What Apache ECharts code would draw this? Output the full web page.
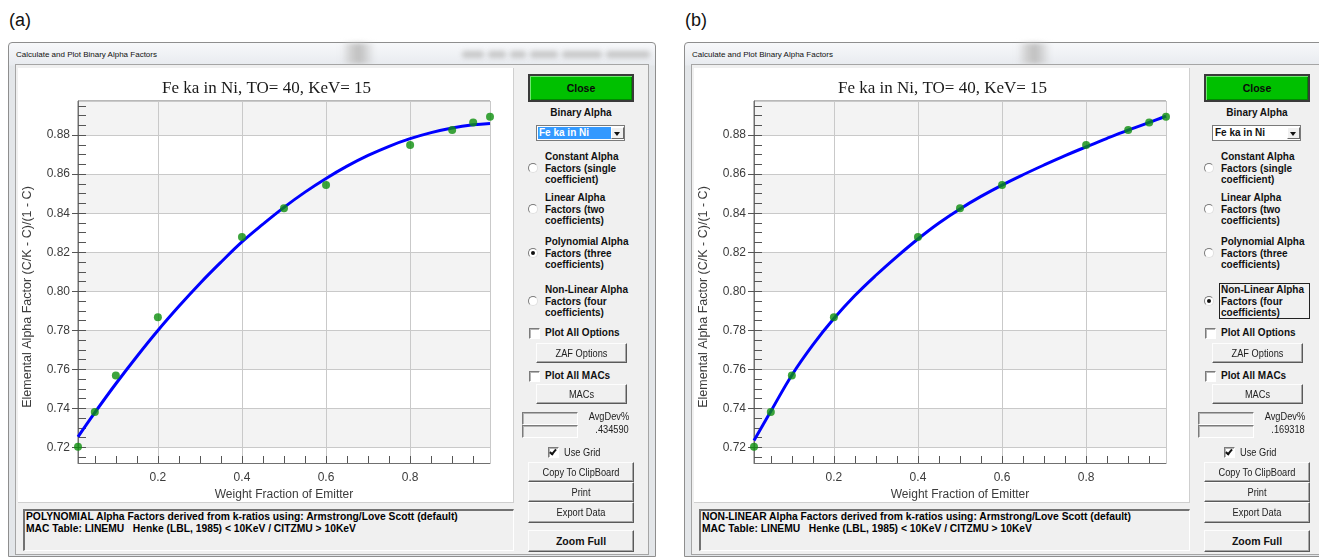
<!DOCTYPE html>
<html><head><meta charset="utf-8">
<script src="https://cdn.jsdelivr.net/npm/echarts@6.0.0/dist/echarts.min.js"></script>
<style>
html,body{margin:0;padding:0;background:#fff;}
#page{position:relative;width:1319px;height:558px;overflow:hidden;font-family:"Liberation Sans",Arial,sans-serif;}
.a{position:absolute;box-sizing:border-box;}
.bold{font-weight:bold;font-size:10px;color:#111;line-height:11.7px;white-space:pre;}
.narrow{font-family:"Liberation Sans",Arial,sans-serif;font-size:11px;color:#222;white-space:nowrap;}
.sq{display:inline-block;transform:scaleX(.84);}
.btn{background:#f0f0f0;border:1px solid;border-color:#fdfdfd #5a5a5a #5a5a5a #fdfdfd;box-shadow:inset -1px -1px 0 #a8a8a8;text-align:center;}
.sunk{border:1px solid;border-color:#7b7b7b #fff #fff #7b7b7b;box-shadow:inset 1px 1px 0 #b4b4b4;}
</style></head><body><div id="page"></div>
<script>
// ---------------- DATA ----------------
const chartTitle = 'Fe ka in Ni, TO= 40, KeV= 15';
const xAxisName = 'Weight Fraction of Emitter';
const yAxisName = 'Elemental Alpha Factor (C/K - C)/(1 - C)';
const dialogTitle = 'Calculate and Plot Binary Alpha Factors';

// measured alpha factors (green points)
const xPoints = [0.01, 0.05, 0.10, 0.20, 0.40, 0.50, 0.60, 0.80, 0.90, 0.95, 0.99];
const alphaPoints = [0.7203, 0.7381, 0.7569, 0.7867, 0.8278, 0.8426, 0.8545, 0.8749, 0.8826, 0.8865, 0.8894];

// fitted curves (blue lines)
const xCurve = [0.01, 0.05, 0.10, 0.15, 0.20, 0.25, 0.30, 0.35, 0.40, 0.45, 0.50, 0.55, 0.60, 0.65, 0.70, 0.75, 0.80, 0.85, 0.90, 0.95, 0.99];
const polyCurve = [0.7254, 0.7378, 0.7526, 0.7666, 0.7799, 0.7923, 0.8040, 0.8149, 0.8253, 0.8344, 0.8430, 0.8508, 0.8578, 0.8641, 0.8696, 0.8743, 0.8782, 0.8813, 0.8837, 0.8853, 0.8860];
const nonLinearCurve = [0.7235, 0.7385, 0.7570, 0.7725, 0.7860, 0.7978, 0.8082, 0.8178, 0.8268, 0.8350, 0.8422, 0.8486, 0.8544, 0.8597, 0.8647, 0.8695, 0.8740, 0.8784, 0.8826, 0.8865, 0.8898];

// axes
const xMin = 0.01, xMax = 0.99;
const yMin = 0.712, yMax = 0.8975;
const xTickLabels = [0.2, 0.4, 0.6, 0.8];
const xTickMarks = [0.05, 0.1, 0.15, 0.2, 0.25, 0.3, 0.35, 0.4, 0.45, 0.5, 0.55, 0.6, 0.65, 0.7, 0.75, 0.8, 0.85, 0.9, 0.95];
const yTickLabels = [0.72, 0.74, 0.76, 0.78, 0.80, 0.82, 0.84, 0.86, 0.88];
const yInnerTicks = [0.715, 0.72, 0.725, 0.73, 0.735, 0.74, 0.745, 0.75, 0.755, 0.76, 0.765, 0.77, 0.775, 0.78, 0.785, 0.79, 0.795, 0.8, 0.805, 0.81, 0.815, 0.82, 0.825, 0.83, 0.835, 0.84, 0.845, 0.85, 0.855, 0.86, 0.865, 0.87, 0.875, 0.88, 0.885, 0.89, 0.895];

// dialog texts
const radioLabels = [
  'Constant Alpha\nFactors (single\ncoefficient)',
  'Linear Alpha\nFactors (two\ncoefficients)',
  'Polynomial Alpha\nFactors (three\ncoefficients)',
  'Non-Linear Alpha\nFactors (four\ncoefficients)'
];
const statusLine2 = 'MAC Table: LINEMU   Henke (LBL, 1985) < 10KeV / CITZMU > 10KeV';
const panels = [
  {tag: '(a)', status1: 'POLYNOMIAL Alpha Factors derived from k-ratios using: Armstrong/Love Scott (default)', selected: 2, avgDev: '.434590', curve: polyCurve, highlightCombo: true},
  {tag: '(b)', status1: 'NON-LINEAR Alpha Factors derived from k-ratios using: Armstrong/Love Scott (default)', selected: 3, avgDev: '.169318', curve: nonLinearCurve, highlightCombo: false}
];

// ---------------- LAYOUT ----------------
const page = document.getElementById('page');
function box(x, y, w, h, cls, style, text) {
  const d = document.createElement('div');
  d.className = 'a ' + (cls || '');
  d.style.left = x + 'px'; d.style.top = y + 'px';
  if (w != null) d.style.width = w + 'px';
  if (h != null) d.style.height = h + 'px';
  if (style) d.style.cssText += style;
  if (text != null) d.textContent = text;
  page.appendChild(d);
  return d;
}
function narrowText(x, y, w, h, text, align, extra) {
  const d = box(x, y, w, h, 'narrow', 'text-align:' + align + ';line-height:' + h + 'px;' + (extra || ''));
  const s = document.createElement('span');
  s.className = 'sq';
  s.style.transformOrigin = align === 'right' ? '100% 50%' : (align === 'left' ? '0 50%' : '50% 50%');
  s.textContent = text;
  d.appendChild(s);
  return d;
}
function button(x, y, w, h, text, bold) {
  if (bold) {
    box(x, y, w, h, 'btn', 'line-height:' + (h - 2) + 'px;font-weight:bold;font-size:10.5px;color:#111;', text);
  } else {
    const b = box(x, y, w, h, 'btn', '');
    const s = document.createElement('span');
    s.className = 'sq narrow';
    s.style.cssText = 'position:absolute;left:0;right:0;top:0;line-height:' + (h - 2) + 'px;transform-origin:50% 50%;';
    s.textContent = text;
    b.appendChild(s);
  }
}
function checkbox(x, y, checked) {
  box(x, y, 11, 11, 'sunk', 'background:#fff;');
  if (checked) box(x + 3, y + 1, 4, 7, '', 'border-right:2px solid #111;border-bottom:2px solid #111;transform:rotate(40deg);');
}
function radio(cx, cy, on) {
  box(cx - 5, cy - 5, 10, 10, '', 'border-radius:50%;border:1px solid;border-color:#7a7a7a #e0e0e0 #e0e0e0 #7a7a7a;background:#fff;');
  if (on) box(cx - 2, cy - 2, 4, 4, '', 'border-radius:50%;background:#111;');
}

function buildChrome(p, o) {
  box(9 + o, 9, null, null, '', 'font-size:18px;line-height:22px;color:#111;', p.tag);
  box(8 + o, 42, 648, 515, '', 'border:1px solid #8e8e8e;border-radius:4px 4px 0 0;background:linear-gradient(#f7f8fa,#e8ebef 22px,#e3e6e9 23px,#e3e6e9);');
  box(341 + o, 43, 34, 21, '', 'background:linear-gradient(90deg,rgba(200,200,200,0),#cacaca 35%,#c0c0c0 55%,rgba(200,200,200,0));filter:blur(2.5px);');
  if (o === 0) {
    [[462, 22], [488, 18], [510, 16], [530, 28], [562, 40], [606, 44]].forEach(function (b) {
      box(b[0], 51, b[1], 7, '', 'background:#bdbdbd;border-radius:3px;filter:blur(2.5px);opacity:.8;');
    });
  }
  box(16 + o, 49, null, null, '', 'font-size:8px;line-height:11px;color:#111;white-space:nowrap;', dialogTitle);
  box(15 + o, 64, 634, 491, '', 'background:#f0f0f0;border:1px solid #a5a5a5;');
  box(18 + o, 68, 496, 435, '', 'background:#fff;border-right:1px solid #cfcfcf;border-bottom:1px solid #cfcfcf;');
  box(23 + o, 509, 491, 42, '', 'background:#f0f0f0;border-top:2px solid #727272;border-left:2px solid #727272;border-right:1px solid #fff;border-bottom:1px solid #fff;');
  box(26 + o, 511, null, null, '', 'font-weight:bold;font-size:10.3px;line-height:12px;color:#000;white-space:pre;', p.status1 + '\n' + statusLine2);

  // right column
  box(528 + o, 74, 106, 28, '', 'background:#00c000;border:2px solid #3a3a3a;box-shadow:inset 1px 1px 0 #6ee86e, inset -1px -1px 0 #008a00;text-align:center;line-height:24px;font-weight:bold;font-size:10.5px;color:#0a0a0a;', 'Close');
  box(528 + o, 107, 106, 12, 'bold', 'text-align:center;', 'Binary Alpha');
  box(536 + o, 125, 89, 16, '', 'background:#fff;border:1px solid #7a7a7a;');
  box(538 + o, 127, 73, 12, 'bold', 'line-height:12px;padding-left:1px;' + (p.highlightCombo ? 'background:#3399ff;color:#fff;' : ''), 'Fe ka in Ni');
  box(611 + o, 127, 13, 12, '', 'background:#f0f0f0;border:1px solid;border-color:#fff #6a6a6a #6a6a6a #fff;');
  box(614 + o, 132, 0, 0, '', 'border-left:3.5px solid transparent;border-right:3.5px solid transparent;border-top:4px solid #111;');

  const groupTops = [151, 192, 236, 284];
  radioLabels.forEach(function (lab, i) {
    box(545 + o, groupTops[i], null, null, 'bold', '', lab);
    radio(533 + o, groupTops[i] + 17, i === p.selected);
  });
  if (p.selected === 3) box(543 + o, 283, 91, 36, '', 'border:1px solid #222;');

  checkbox(529 + o, 328, false);
  box(545 + o, 327, null, null, 'bold', '', 'Plot All Options');
  button(536 + o, 343, 91, 20, 'ZAF Options');
  checkbox(529 + o, 371, false);
  box(545 + o, 370, null, null, 'bold', '', 'Plot All MACs');
  button(536 + o, 384, 91, 20, 'MACs');

  box(522 + o, 412, 56, 13, 'sunk', '');
  box(522 + o, 425, 56, 13, 'sunk', '');
  narrowText(568 + o, 410, 61, 13, 'AvgDev%', 'right');
  narrowText(568 + o, 423, 61, 13, p.avgDev, 'right');

  checkbox(548 + o, 447, true);
  narrowText(564 + o, 446, 50, 13, 'Use Grid', 'left');
  button(528 + o, 462, 106, 20, 'Copy To ClipBoard');
  button(528 + o, 482, 106, 20, 'Print');
  button(528 + o, 502, 106, 21, 'Export Data');
  button(528 + o, 530, 106, 22, 'Zoom Full', true);
}

function makeOption(curve) {
  const txt = {fontFamily: '"Liberation Sans", Arial, sans-serif', fontSize: 12, color: '#3c3c3c'};
  const frame = '#707070';
  const tickStyle = {color: '#555', width: 1};
  return {
    animation: false,
    title: {text: chartTitle, left: 'center', top: 7,
      textStyle: {fontFamily: '"Liberation Serif", "Times New Roman", serif', fontSize: 17, fontWeight: 'normal', color: '#1a1a1a'}},
    grid: {left: 60, top: 33, width: 412, height: 362, containLabel: false, outerBoundsMode: 'none',
      show: true, borderColor: frame, borderWidth: 1, backgroundColor: 'rgba(0,0,0,0)'},
    graphic: [
      {type: 'text', x: 10, y: 229, rotation: Math.PI / 2, silent: true,
        style: {text: yAxisName, align: 'center', verticalAlign: 'middle', fill: '#3c3c3c',
          font: '12.5px "Liberation Sans", Arial, sans-serif'}}
    ],
    xAxis: [
      {type: 'value', min: xMin, max: xMax, splitNumber: 5, position: 'bottom',
        name: xAxisName, nameLocation: 'middle', nameGap: 24, nameTextStyle: txt,
        axisLine: {show: true, lineStyle: {color: frame}}, axisTick: {show: false},
        axisLabel: Object.assign({customValues: xTickLabels, formatter: function (v) { return v.toFixed(1); }, margin: 9}, txt),
        splitLine: {show: true, lineStyle: {color: '#c9c9c9'}}},
      {type: 'value', min: xMin, max: xMax, position: 'bottom',
        axisLine: {show: false}, axisLabel: {show: false}, splitLine: {show: false},
        axisTick: {show: true, inside: true, length: 7, customValues: xTickMarks, lineStyle: tickStyle}}
    ],
    yAxis: [
      {type: 'value', min: yMin, max: yMax, splitNumber: 9, position: 'left',
        axisLine: {show: true, lineStyle: {color: frame}}, axisTick: {show: false},
        axisLabel: Object.assign({customValues: yTickLabels, formatter: function (v) { return v.toFixed(2); }, margin: 8}, txt),
        splitLine: {show: true, lineStyle: {color: '#c9c9c9'}},
        splitArea: {show: true, areaStyle: {color: ['#ffffff', '#f3f3f3']}}},
      {type: 'value', min: yMin, max: yMax, position: 'left',
        axisLine: {show: false}, axisLabel: {show: false}, splitLine: {show: false},
        axisTick: {show: true, inside: false, length: 6, customValues: yTickLabels, lineStyle: tickStyle}},
      {type: 'value', min: yMin, max: yMax, position: 'left',
        axisLine: {show: false}, axisLabel: {show: false}, splitLine: {show: false},
        axisTick: {show: true, inside: true, length: 8, customValues: yInnerTicks, lineStyle: tickStyle}}
    ],
    series: [
      {type: 'line', xAxisIndex: 0, yAxisIndex: 0, smooth: 0.4, showSymbol: false, symbol: 'none',
        data: xCurve.map(function (x, i) { return [x, curve[i]]; }),
        lineStyle: {color: '#0000ff', width: 3}, z: 3},
      {type: 'scatter', xAxisIndex: 0, yAxisIndex: 0, symbolSize: 8,
        data: xPoints.map(function (x, i) { return [x, alphaPoints[i]]; }),
        itemStyle: {color: '#0d8f0d'}, z: 4}
    ]
  };
}

panels.forEach(function (p, i) {
  const o = i * 676;
  buildChrome(p, o);
  const div = box(18 + o, 68, 497, 437, '', '');
  const chart = echarts.init(div, null, {renderer: 'canvas'});
  chart.setOption(makeOption(p.curve));
});
</script></body></html>
